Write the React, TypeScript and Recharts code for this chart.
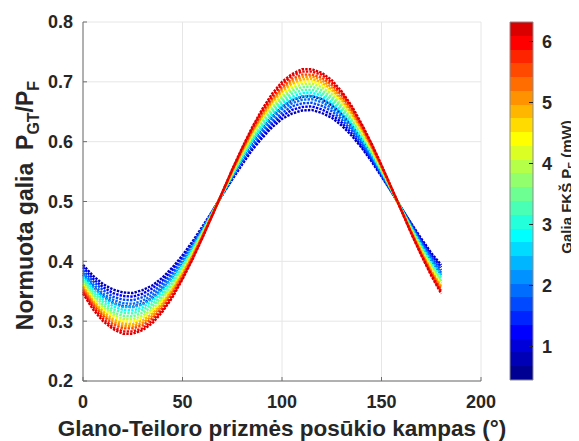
import React from "react";
import {
  LineChart,
  Line,
  XAxis,
  YAxis,
  CartesianGrid,
  ComposedChart,
  ReferenceArea,
  Label,
} from "recharts";

const FONT = "'Liberation Sans', Arial, Helvetica, sans-serif";
const INK = "#262626";
const AXIS = "#6e6e6e";
const GRID = "#e6e6e6";

// rotation angle of the Glan-Taylor prism, degrees
const ANGLES = [
  0, 5, 10, 15, 20, 25, 30, 35, 40, 45, 50, 55, 60, 65, 70, 75, 80, 85, 90,
  95, 100, 105, 110, 115, 120, 125, 130, 135, 140, 145, 150, 155, 160, 165,
  170, 175, 180,
];

// pump power of each sweep, mW
const POWERS = [0.45, 0.84, 1.23, 1.62, 2.01, 2.4, 2.79, 3.18, 3.57, 3.96, 4.35, 4.74, 5.13, 5.52, 5.91, 6.3];

// normalised power P_GT/P_F, one array per pump power
const P_045 = [.378, .358, .342, .331, .325, .324, .329, .339, .354, .373, .397, .423, .451, .482, .512, .543, .572, .598, .622, .642, .658, .669, .675, .676, .671, .661, .646, .627, .603, .577, .549, .518, .488, .457, .428, .402, .378];
const P_084 = [.394, .376, .362, .353, .348, .347, .352, .360, .373, .390, .410, .433, .458, .484, .511, .537, .562, .586, .606, .624, .638, .647, .652, .653, .648, .640, .627, .610, .590, .567, .542, .516, .489, .463, .438, .414, .394];
const P_123 = [.390, .371, .357, .347, .342, .341, .346, .355, .368, .386, .407, .430, .456, .483, .511, .538, .565, .589, .610, .629, .643, .653, .658, .659, .654, .645, .632, .614, .593, .570, .544, .517, .489, .462, .435, .411, .390];
const P_162 = [.385, .367, .352, .341, .336, .335, .340, .349, .363, .381, .403, .428, .455, .483, .512, .540, .567, .592, .615, .633, .648, .659, .664, .665, .660, .651, .637, .619, .597, .572, .545, .517, .488, .460, .433, .408, .385];
const P_201 = [.381, .362, .346, .336, .330, .329, .334, .344, .358, .377, .399, .425, .453, .482, .512, .541, .570, .596, .619, .638, .654, .664, .670, .671, .666, .656, .642, .623, .601, .575, .547, .518, .488, .459, .430, .404, .381];
const P_240 = [.377, .357, .341, .330, .324, .323, .328, .338, .353, .373, .396, .422, .451, .482, .512, .543, .572, .599, .623, .643, .659, .670, .676, .677, .672, .662, .647, .627, .604, .578, .549, .518, .488, .457, .428, .401, .377];
const P_279 = [.374, .353, .336, .325, .319, .318, .323, .334, .349, .369, .393, .420, .450, .481, .513, .544, .574, .602, .626, .647, .664, .675, .681, .682, .677, .666, .651, .631, .607, .580, .550, .519, .487, .456, .426, .398, .374];
const P_318 = [.370, .349, .332, .320, .314, .313, .319, .329, .345, .365, .390, .418, .448, .480, .513, .545, .576, .605, .630, .651, .668, .680, .686, .687, .681, .671, .655, .635, .610, .582, .552, .520, .487, .455, .424, .395, .370];
const P_357 = [.367, .345, .327, .315, .309, .308, .314, .325, .341, .362, .387, .416, .447, .480, .513, .546, .578, .607, .633, .655, .673, .685, .691, .692, .686, .675, .659, .638, .613, .584, .553, .520, .487, .454, .422, .393, .367];
const P_396 = [.363, .341, .323, .311, .304, .303, .309, .320, .337, .358, .384, .414, .446, .479, .514, .548, .580, .610, .637, .659, .677, .689, .696, .697, .691, .680, .663, .642, .616, .586, .554, .521, .486, .452, .420, .390, .363];
const P_435 = [.360, .337, .319, .307, .300, .299, .305, .316, .333, .355, .382, .412, .445, .479, .514, .549, .582, .612, .640, .663, .681, .693, .700, .701, .695, .684, .667, .645, .618, .588, .555, .521, .486, .451, .418, .388, .360];
const P_474 = [.358, .334, .316, .303, .296, .295, .301, .313, .330, .353, .380, .410, .444, .479, .514, .550, .583, .615, .642, .666, .684, .697, .704, .705, .699, .687, .670, .647, .620, .590, .556, .521, .486, .450, .417, .385, .358];
const P_513 = [.355, .331, .312, .299, .292, .291, .297, .309, .327, .350, .377, .408, .442, .478, .515, .551, .585, .617, .645, .669, .688, .701, .708, .709, .703, .691, .673, .650, .623, .592, .558, .522, .485, .449, .415, .383, .355];
const P_552 = [.352, .328, .309, .295, .288, .288, .293, .305, .323, .347, .375, .407, .441, .478, .515, .552, .587, .619, .648, .672, .691, .705, .712, .712, .707, .695, .677, .653, .625, .593, .559, .522, .485, .448, .413, .381, .352];
const P_591 = [.349, .324, .304, .290, .283, .283, .288, .301, .319, .343, .372, .404, .440, .477, .515, .553, .589, .622, .651, .676, .696, .710, .717, .717, .712, .699, .681, .657, .628, .596, .560, .523, .485, .447, .411, .378, .349];
const P_630 = [.346, .320, .300, .287, .279, .279, .285, .297, .316, .340, .370, .403, .439, .477, .515, .554, .590, .624, .654, .680, .700, .713, .721, .721, .715, .703, .684, .660, .630, .597, .561, .523, .485, .446, .410, .376, .346];

const SERIES = [P_045, P_084, P_123, P_162, P_201, P_240, P_279, P_318, P_357, P_396, P_435, P_474, P_513, P_552, P_591, P_630];

const X_TICKS = [0, 50, 100, 150, 200];
const Y_TICKS = [0.2, 0.3, 0.4, 0.5, 0.6, 0.7, 0.8];
const CB_TICKS = [1, 2, 3, 4, 5, 6];
const CB_MIN = 0.45;
const CB_MAX = 6.32;

// matlab jet(26)
const JET = [
  "#000092", "#0000b6", "#0000db", "#0000ff", "#0024ff", "#0049ff", "#006dff",
  "#0092ff", "#00b6ff", "#00dbff", "#00ffff", "#24ffdb", "#49ffb6", "#6dff92",
  "#92ff6d", "#b6ff49", "#dbff24", "#ffff00", "#ffdb00", "#ffb600", "#ff9200",
  "#ff6d00", "#ff4900", "#ff2400", "#ff0000", "#db0000",
];

const colorFor = (p: number) =>
  JET[Math.min(JET.length - 1, Math.floor(((p - CB_MIN) / (CB_MAX - CB_MIN)) * JET.length))];

const rows = ANGLES.map((a, i) => {
  const r: any = { angle: a };
  SERIES.forEach((s, k) => (r[`s${k}`] = s[i]));
  return r;
});

// each band runs to the top and the next one is painted over it,
// so there are no seams between colours
const step = (CB_MAX - CB_MIN) / JET.length;
const bands = JET.map((c, i) => ({ color: c, lo: CB_MIN + step * i }));

// two rows just to give the colour bar's axes a range
const cbRange = [
  { x: 0, p: CB_MIN },
  { x: 1, p: CB_MAX },
];

const tickStyle = { fontSize: 18, fontWeight: 700, fill: INK, fontFamily: FONT };

const YTitle = ({ viewBox }: any) => {
  const x = 25;
  const y = viewBox.y + viewBox.height / 2 + 4;
  return (
    <text
      x={x}
      y={y}
      transform={`rotate(-90 ${x} ${y})`}
      textAnchor="middle"
      fontSize={23}
      fontWeight={700}
      fontFamily={FONT}
      fill={INK}
    >
      {"Normuota galia\u00a0\u00a0P"}
      <tspan dy={6} fontSize={16}>GT</tspan>
      <tspan dy={-6}>/P</tspan>
      <tspan dy={6} fontSize={16}>F</tspan>
    </text>
  );
};

const CbTitle = ({ viewBox }: any) => {
  const x = 64;
  const y = viewBox.y + viewBox.height / 2 - 14;
  return (
    <text
      x={x}
      y={y}
      transform={`rotate(-90 ${x} ${y})`}
      textAnchor="middle"
      fontSize={15}
      fontWeight={700}
      fontFamily={FONT}
      fill={INK}
    >
      {"Galia FKŠ P"}
      <tspan dy={4} fontSize={11}>F</tspan>
      <tspan dy={-4}>{" (mW)"}</tspan>
    </text>
  );
};

function ColorBar() {
  return (
    <ComposedChart
      width={71}
      height={433}
      data={cbRange}
      margin={{ top: 14, right: 0, bottom: 61, left: 2 }}
    >
      <XAxis dataKey="x" type="number" domain={[0, 1]} hide />
      <YAxis
        type="number"
        orientation="right"
        domain={[CB_MIN, CB_MAX]}
        ticks={CB_TICKS}
        width={46}
        axisLine={false}
        tickSize={-4}
        tickMargin={13}
        tickLine={{ stroke: INK }}
        tick={tickStyle}
        allowDataOverflow
      >
        <Label content={<CbTitle />} />
      </YAxis>
      {bands.map((b, i) => (
        <ReferenceArea
          key={i}
          x1={0}
          x2={1}
          y1={b.lo}
          y2={CB_MAX}
          fill={b.color}
          fillOpacity={1}
          stroke="none"
          shapeRendering="crispEdges"
        />
      ))}
      <ReferenceArea x1={0} x2={1} y1={CB_MIN} y2={CB_MAX} fill="none" stroke="#8c8c8c" />
      <Line dataKey="p" stroke="none" dot={false} isAnimationActive={false} />
    </ComposedChart>
  );
}

export default function App() {
  return (
    <div style={{ position: "relative", width: 571, height: 433, fontFamily: FONT }}>
      <LineChart
        width={500}
        height={433}
        data={rows}
        margin={{ top: 14, right: 27, bottom: 0, left: 0 }}
      >
        <CartesianGrid stroke={GRID} />
        <XAxis
          dataKey="angle"
          type="number"
          domain={[0, 200]}
          ticks={X_TICKS}
          height={60}
          stroke={AXIS}
          tickSize={-4}
          tickMargin={18}
          tick={tickStyle}
        >
          <Label
            value="Glano-Teiloro prizmės posūkio kampas (°)"
            position="insideBottom"
            offset={5}
            fontSize={22.5}
            fontWeight={700}
            fontFamily={FONT}
            fill={INK}
          />
        </XAxis>
        <XAxis
          xAxisId="top"
          orientation="top"
          type="number"
          domain={[0, 200]}
          height={0}
          stroke={AXIS}
          tick={false}
        />
        <YAxis
          type="number"
          domain={[0.2, 0.8]}
          ticks={Y_TICKS}
          width={75}
          stroke={AXIS}
          tickSize={-4}
          tickMargin={14}
          tick={tickStyle}
          tickFormatter={(v: number) => v.toFixed(1)}
        >
          <Label content={<YTitle />} />
        </YAxis>
        <YAxis
          yAxisId="right"
          orientation="right"
          type="number"
          domain={[0.2, 0.8]}
          width={0}
          stroke={AXIS}
          tick={false}
        />
        {SERIES.map((_, k) => (
          <Line
            key={k}
            dataKey={`s${k}`}
            type="linear"
            stroke={colorFor(POWERS[k])}
            strokeWidth={2.4}
            strokeDasharray="2.4 1.2"
            dot={false}
            isAnimationActive={false}
          />
        ))}
      </LineChart>
      <div style={{ position: "absolute", left: 500, top: 0 }}>
        <ColorBar />
      </div>
    </div>
  );
}
